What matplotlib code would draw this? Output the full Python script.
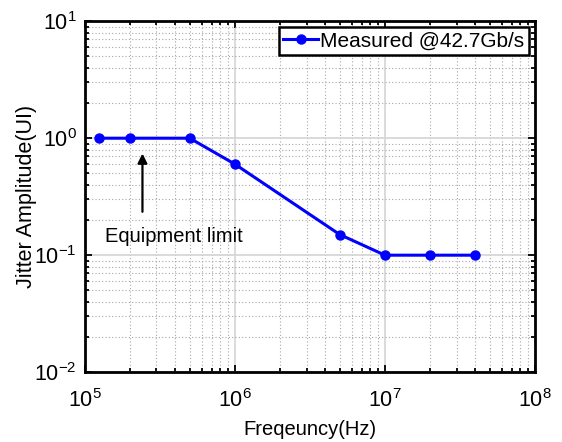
import matplotlib.pyplot as plt
from matplotlib.ticker import LogLocator, NullFormatter

plt.rcParams['font.family'] = ['Liberation Sans', 'DejaVu Sans']
plt.rcParams['mathtext.fontset'] = 'custom'
plt.rcParams['mathtext.rm'] = 'Liberation Sans'
plt.rcParams['mathtext.it'] = 'Liberation Sans:italic'
plt.rcParams['mathtext.bf'] = 'Liberation Sans:bold'
plt.rcParams['mathtext.default'] = 'regular'
plt.rcParams['axes.unicode_minus'] = False

freq = [1.25e5, 2e5, 5e5, 1e6, 5e6, 1e7, 2e7, 4e7]
jitter = [1.0, 1.0, 1.0, 0.6, 0.15, 0.1, 0.1, 0.1]

fig = plt.figure(figsize=(5.62, 4.42), dpi=100)
ax = fig.add_axes([0.151, 0.158, 0.801, 0.794])

ax.plot(freq, jitter, '-o', color='#0000ff', lw=2.2, ms=6.5, label='Measured @42.7Gb/s')
ax.set_xscale('log')
ax.set_yscale('log')
ax.set_xlim(1e5, 1e8)
ax.set_ylim(1e-2, 1e1)

ax.xaxis.set_major_locator(LogLocator(base=10, numticks=10))
ax.yaxis.set_major_locator(LogLocator(base=10, numticks=10))
ax.xaxis.set_minor_locator(LogLocator(base=10, subs=range(2, 10), numticks=20))
ax.yaxis.set_minor_locator(LogLocator(base=10, subs=range(2, 10), numticks=20))
ax.xaxis.set_minor_formatter(NullFormatter())
ax.yaxis.set_minor_formatter(NullFormatter())

ax.grid(True, which='major', color='#d4d4d4', lw=1.2, ls='-')
ax.grid(True, which='minor', color='#a8a8a8', lw=0.8, ls=(0, (1, 2)))
ax.set_axisbelow(True)

ax.tick_params(which='both', direction='in', top=True, right=True, labelsize=15.5, width=1.3)
ax.tick_params(which='major', length=5)
ax.tick_params(which='minor', length=3)
ax.tick_params(axis='x', pad=12)
ax.tick_params(axis='y', pad=6)
for s in ax.spines.values():
    s.set_linewidth(2)

ax.set_xlabel('Freqeuncy(Hz)', fontsize=14.5, labelpad=6)
ax.set_ylabel('Jitter Amplitude(UI)', fontsize=15.5)
ax.yaxis.set_label_coords(-0.107, 0.5)

ax.annotate('', xy=(2.42e5, 0.74), xytext=(2.42e5, 0.235),
            arrowprops=dict(arrowstyle='-|>', color='black', lw=1.6,
                            mutation_scale=14, shrinkA=0, shrinkB=0))
ax.text(1.36e5, 0.129, 'Equipment limit', fontsize=14.5, ha='left', va='baseline')

leg = ax.legend(loc='upper right', fontsize=15, handlelength=1.7, handletextpad=0.1,
                borderpad=0.2, borderaxespad=0.3, fancybox=False, framealpha=1)
leg.get_frame().set_edgecolor('black')
leg.get_frame().set_linewidth(1.8)

fig.savefig('out.png', dpi=100)
